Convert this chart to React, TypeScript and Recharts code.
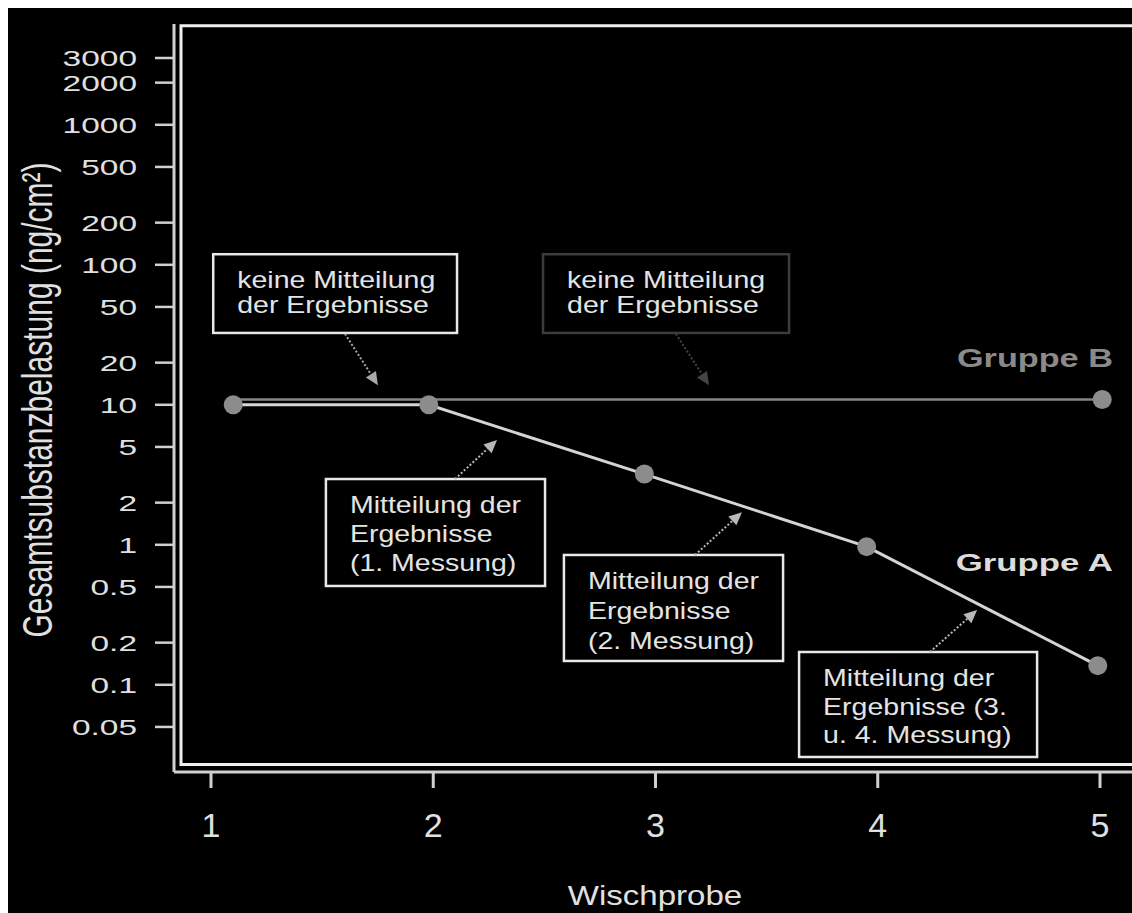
import React from 'react'
import { LineChart, Line, XAxis, YAxis, ReferenceArea, ReferenceLine, ReferenceDot } from 'recharts'

const FONT = '"Liberation Sans", Arial, Helvetica, sans-serif'

// Wischprobe (x) vs. Gesamtsubstanzbelastung in ng/cm² (y)
const groupAX = [1.1, 1.98, 2.95, 3.95, 4.99]
const groupAY = [10, 10, 3.2, 0.97, 0.137]
const groupBX = [1.1, 1.98, 5.01]
const groupBY = [10.9, 10.9, 10.9]

const groupA = groupAX.map((x, i) => ({ x, y: groupAY[i] }))
const groupB = groupBX.map((x, i) => ({ x, y: groupBY[i] }))

const xTicks = [1, 2, 3, 4, 5]
const yTicks = [0.05, 0.1, 0.2, 0.5, 1, 2, 5, 10, 20, 50, 100, 200, 500, 1000, 2000, 3000]
// the plot runs past the right edge of the page, as in the cropped original
const xDomain = [0.8335, 5.216]
const yDomain = [0.02383, 5248]

// annotation boxes (data coords) and their arrows
const noteText = [
  ['keine Mitteilung', 'der Ergebnisse'],
  ['keine Mitteilung', 'der Ergebnisse'],
  ['Mitteilung der', 'Ergebnisse', '(1. Messung)'],
  ['Mitteilung der', 'Ergebnisse', '(2. Messung)'],
  ['Mitteilung der', 'Ergebnisse (3.', 'u. 4. Messung)'],
]
const noteX = [[1.01, 2.107], [2.494, 3.601], [1.517, 2.503], [2.588, 3.574], [3.646, 4.717]]
const noteY = [[32.6, 119], [32.6, 119], [0.508, 2.95], [0.148, 0.846], [0.0305, 0.1715]]
const noteStroke = ['#e8e8e8', '#3c3c3c', '#e8e8e8', '#e8e8e8', '#e8e8e8']
const noteGap = [25, 25, 29, 30, 28.5]
const arrowFrom = [[1.603, 32.1], [3.092, 32.1], [2.098, 2.95], [3.178, 0.846], [4.235, 0.1715]]
const arrowTo = [[1.751, 13.8], [3.241, 13.8], [2.287, 5.61], [3.389, 1.71], [4.447, 0.342]]
const arrowColor = ['#a8a8a8', '#444444', '#b8b8b8', '#b8b8b8', '#b8b8b8']

const YTick = (p: any) => (
  <text transform={`translate(${p.x},${p.y + 8}) scale(1.52,1)`} textAnchor="end" fontSize={22} fill="#e0e0e0" fontFamily={FONT}>
    {p.payload.value}
  </text>
)

const XTick = (p: any) => (
  <text x={p.x} y={p.y + 49} textAnchor="middle" fontSize={34} fill="#e0e0e0" fontFamily={FONT}>
    {p.payload.value}
  </text>
)

const XLabel = () => (
  <text transform="translate(647,897) scale(1.18,1)" textAnchor="middle" fontSize={28} fill="#e0e0e0" fontFamily={FONT}>
    Wischprobe
  </text>
)

const YLabel = (p: any) => {
  const vb = p.viewBox || { x: 0, y: 16, width: 166, height: 748 }
  return (
    <text transform={`translate(${vb.x + 44},${vb.y + vb.height / 2 + 2}) scale(1.4,1) rotate(-90)`} textAnchor="middle" fontSize={30} fill="#e0e0e0" fontFamily={FONT}>
      Gesamtsubstanzbelastung (ng/cm²)
    </text>
  )
}

// plot frame: left, top and bottom edges only (open to the right)
const frameShape = (p: any) => (
  <path
    d={`M${p.x + p.width},${p.y} H${p.x} V${p.y + p.height} H${p.x + p.width}`}
    fill="none"
    stroke="#f0f0f0"
    strokeWidth={3}
  />
)

const noteShape = (i: number) => (p: any) => (
  <g>
    <rect x={p.x} y={p.y} width={p.width} height={p.height} fill="#000" stroke={noteStroke[i]} strokeWidth={2.5} />
    {noteText[i].map((t, k) => (
      <text key={k} transform={`translate(${p.x + 24},${p.y + 34 + k * noteGap[i]}) scale(1.24,1)`} fontSize={23} fill="#e4e4e4" fontFamily={FONT}>
        {t}
      </text>
    ))}
  </g>
)

const arrowShape = (color: string) => (p: any) => {
  const { x1, y1, x2, y2 } = p
  const a = Math.atan2(y2 - y1, x2 - x1)
  const L = 13
  const W = 6
  const bx = x2 - L * Math.cos(a)
  const by = y2 - L * Math.sin(a)
  const pts = `${x2},${y2} ${bx - W * Math.sin(a)},${by + W * Math.cos(a)} ${bx + W * Math.sin(a)},${by - W * Math.cos(a)}`
  return (
    <g>
      <line x1={x1} y1={y1} x2={bx} y2={by} stroke={color} strokeWidth={2} strokeDasharray="2 2" />
      <polygon points={pts} fill={color} />
    </g>
  )
}

const groupLabel = (text: string, color: string, size: number, sx: number) => (p: any) => (
  <text transform={`translate(${p.cx},${p.cy}) scale(${sx},1)`} textAnchor="end" fontSize={size} fontWeight="bold" fill={color} fontFamily={FONT}>
    {text}
  </text>
)

const lastDotOnly = (p: any) =>
  p.index === groupBX.length - 1 ? (
    <circle key={p.index} cx={p.cx} cy={p.cy} r={9.5} fill="#8c8c8c" />
  ) : (
    <g key={p.index} />
  )

export default function App() {
  return (
    <div style={{ position: 'fixed', left: 8, top: 8, width: 1124, height: 905, background: '#000', overflow: 'hidden' }}>
      <LineChart width={1140} height={905} margin={{ top: 16, right: 0, bottom: 0, left: 0 }}>
        <XAxis
          dataKey="x"
          type="number"
          domain={xDomain}
          ticks={xTicks}
          allowDataOverflow
          interval={0}
          height={141}
          tickSize={16}
          tickMargin={0}
          axisLine={{ stroke: '#d0d0d0', strokeWidth: 3 }}
          tickLine={{ stroke: '#d0d0d0', strokeWidth: 3 }}
          tick={XTick}
          label={XLabel}
        />
        <YAxis
          type="number"
          scale="log"
          domain={yDomain}
          ticks={yTicks}
          allowDataOverflow
          interval={0}
          width={166}
          tickSize={19}
          tickMargin={18}
          axisLine={{ stroke: '#d0d0d0', strokeWidth: 3 }}
          tickLine={{ stroke: '#d0d0d0', strokeWidth: 2.5 }}
          tick={YTick}
          label={YLabel}
        />
        <ReferenceArea x1={0.865} x2={5.4} y1={0.027} y2={5100} ifOverflow="visible" shape={frameShape} />
        {noteText.map((_, i) => (
          <ReferenceArea key={'n' + i} x1={noteX[i][0]} x2={noteX[i][1]} y1={noteY[i][0]} y2={noteY[i][1]} ifOverflow="visible" shape={noteShape(i)} />
        ))}
        {arrowFrom.map((f, i) => (
          <ReferenceLine
            key={'a' + i}
            segment={[{ x: f[0], y: f[1] }, { x: arrowTo[i][0], y: arrowTo[i][1] }]}
            ifOverflow="visible"
            shape={arrowShape(arrowColor[i])}
          />
        ))}
        <ReferenceDot x={5.058} y={18.6} ifOverflow="visible" shape={groupLabel('Gruppe B', '#8a8a8a', 25, 1.37)} />
        <ReferenceDot x={5.058} y={0.65} ifOverflow="visible" shape={groupLabel('Gruppe A', '#dcdcdc', 24, 1.45)} />
        <Line data={groupB} dataKey="y" type="linear" stroke="#858585" strokeWidth={2.5} dot={lastDotOnly} activeDot={false} isAnimationActive={false} />
        <Line
          data={groupA}
          dataKey="y"
          type="linear"
          stroke="#d4d4d4"
          strokeWidth={3}
          dot={{ r: 9.5, fill: '#8c8c8c', stroke: '#8c8c8c', strokeWidth: 0 }}
          activeDot={false}
          isAnimationActive={false}
        />
      </LineChart>
    </div>
  )
}
